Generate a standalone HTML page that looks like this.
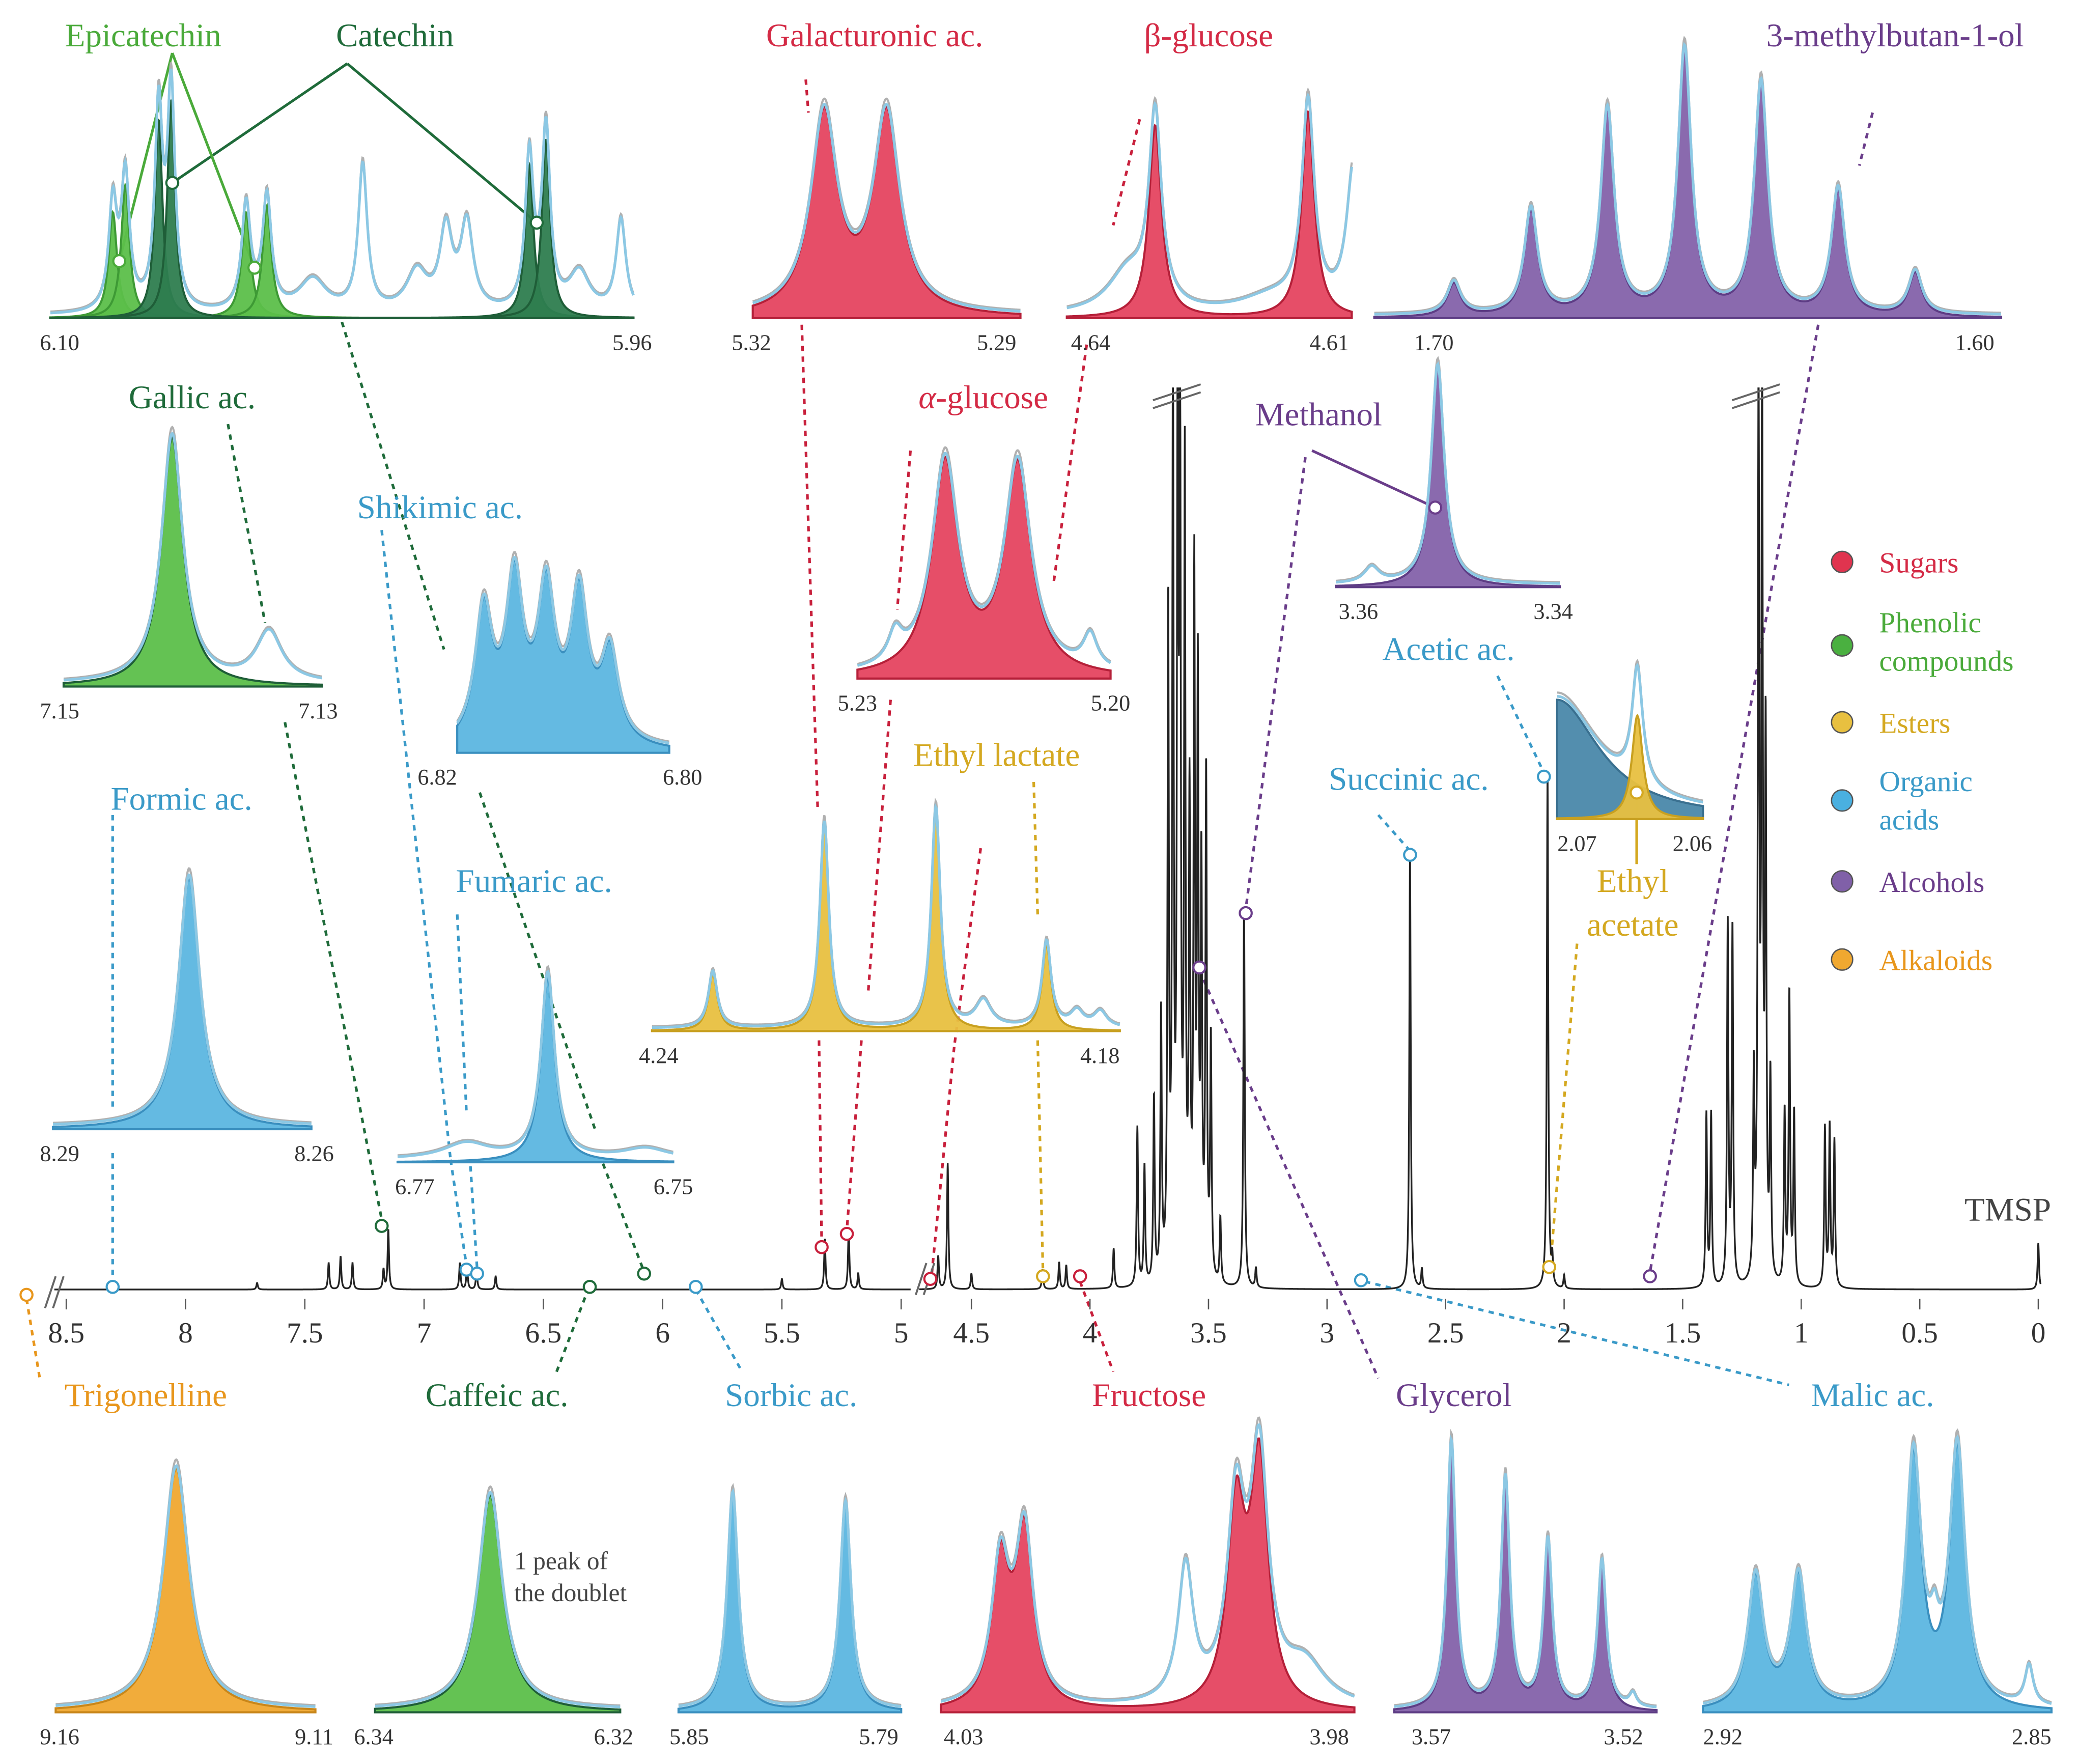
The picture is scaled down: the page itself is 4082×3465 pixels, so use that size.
<!DOCTYPE html>
<html><head><meta charset="utf-8"><style>
html,body{margin:0;padding:0;background:#fff}
svg{display:block}
text{font-family:"Liberation Serif",serif}
</style></head><body>
<svg id="s" xmlns="http://www.w3.org/2000/svg" width="4082" height="3465" viewBox="0 0 1568 1331">
<g id="leaders" fill="none" stroke-width="2" stroke-dasharray="4,4">
<line x1="20" y1="980" x2="30" y2="1040" stroke="#e8961c"/>
<line x1="85" y1="615" x2="85" y2="838" stroke="#3a9ac8"/><line x1="85" y1="870" x2="85" y2="968" stroke="#3a9ac8"/>
<line x1="172" y1="320" x2="200" y2="470" stroke="#1f6b3a"/><line x1="215" y1="545" x2="288" y2="920" stroke="#1f6b3a"/>
<line x1="258" y1="243" x2="335" y2="490" stroke="#1f6b3a"/><line x1="362" y1="598" x2="450" y2="855" stroke="#1f6b3a"/><line x1="455" y1="878" x2="485" y2="957" stroke="#1f6b3a"/>
<line x1="420" y1="1035" x2="443" y2="975" stroke="#1f6b3a"/>
<line x1="288" y1="400" x2="340" y2="875" stroke="#3a9ac8"/><line x1="340" y1="875" x2="352" y2="955" stroke="#3a9ac8"/>
<line x1="345" y1="690" x2="352" y2="840" stroke="#3a9ac8"/><line x1="355" y1="880" x2="360" y2="957" stroke="#3a9ac8"/>
<line x1="525" y1="973" x2="560" y2="1035" stroke="#3a9ac8"/>
<line x1="608" y1="60" x2="610" y2="85" stroke="#c8203c"/><line x1="605" y1="245" x2="617" y2="610" stroke="#c8203c"/><line x1="618" y1="785" x2="620" y2="937" stroke="#c8203c"/>
<line x1="672" y1="528" x2="655" y2="750" stroke="#c8203c"/><line x1="650" y1="785" x2="639" y2="928" stroke="#c8203c"/>
<line x1="687" y1="340" x2="677" y2="460" stroke="#c8203c"/>
<line x1="860" y1="90" x2="840" y2="170" stroke="#c8203c"/><line x1="820" y1="260" x2="795" y2="440" stroke="#c8203c"/>
<line x1="740" y1="640" x2="720" y2="790" stroke="#c8203c"/><line x1="720" y1="790" x2="703" y2="962" stroke="#c8203c"/>
<line x1="815" y1="967" x2="840" y2="1035" stroke="#c8203c"/>
<line x1="780" y1="590" x2="783" y2="690" stroke="#d4a820"/><line x1="783" y1="785" x2="787" y2="960" stroke="#d4a820"/>
<line x1="1413" y1="85" x2="1403" y2="125" stroke="#6a3d8a"/><line x1="1372" y1="245" x2="1245" y2="960" stroke="#6a3d8a"/>
<line x1="985" y1="345" x2="940" y2="686" stroke="#6a3d8a"/>
<line x1="905" y1="732" x2="1040" y2="1040" stroke="#6a3d8a"/>
<line x1="1040" y1="615" x2="1064" y2="642" stroke="#3a9ac8"/>
<line x1="1130" y1="510" x2="1165" y2="583" stroke="#3a9ac8"/>
<line x1="1030" y1="967" x2="1350" y2="1045" stroke="#3a9ac8"/>
<line x1="1190" y1="712" x2="1170" y2="953" stroke="#d4a820"/>
</g>
<g fill="none" stroke-width="2">
<line x1="262" y1="48" x2="130" y2="138" stroke="#1f6b3a"/><line x1="262" y1="48" x2="405" y2="168" stroke="#1f6b3a"/>
<line x1="130" y1="40" x2="90" y2="197" stroke="#4aaa3a"/><line x1="130" y1="40" x2="192" y2="202" stroke="#4aaa3a"/>
<line x1="990" y1="340" x2="1083" y2="383" stroke="#6a3d8a"/>
<line x1="1235" y1="598" x2="1235" y2="652" stroke="#d4a820"/>
</g>
<g id="insets"></g>
<g id="spec"></g>
<g id="dots"></g>
<g font-size="25" text-anchor="middle">
<text x="108" y="35" fill="#4aaa3a">Epicatechin</text>
<text x="298" y="35" fill="#1f6b3a">Catechin</text>
<text x="660" y="35" fill="#d42a45">Galacturonic ac.</text>
<text x="912" y="35" fill="#d42a45">β-glucose</text>
<text x="1430" y="35" fill="#6a3d8a">3-methylbutan-1-ol</text>
<text x="145" y="308" fill="#1f6b3a">Gallic ac.</text>
<text x="332" y="391" fill="#3a9ac8">Shikimic ac.</text>
<text x="742" y="308" fill="#d42a45"><tspan font-style="italic">α</tspan>-glucose</text>
<text x="995" y="321" fill="#6a3d8a">Methanol</text>
<text x="1093" y="498" fill="#3a9ac8">Acetic ac.</text>
<text x="752" y="578" fill="#d4a820">Ethyl lactate</text>
<text x="1063" y="596" fill="#3a9ac8">Succinic ac.</text>
<text x="137" y="611" fill="#3a9ac8">Formic ac.</text>
<text x="403" y="673" fill="#3a9ac8">Fumaric ac.</text>
<text x="1232" y="673" fill="#d4a820">Ethyl</text>
<text x="1232" y="706" fill="#d4a820">acetate</text>
<text x="1515" y="921" fill="#444">TMSP</text>
<text x="110" y="1061" fill="#e8961c">Trigonelline</text>
<text x="375" y="1061" fill="#1f6b3a">Caffeic ac.</text>
<text x="597" y="1061" fill="#3a9ac8">Sorbic ac.</text>
<text x="867" y="1061" fill="#d42a45">Fructose</text>
<text x="1097" y="1061" fill="#6a3d8a">Glycerol</text>
<text x="1413" y="1061" fill="#3a9ac8">Malic ac.</text>
<text x="388" y="1184" font-size="19" text-anchor="start" fill="#444">1 peak of</text>
<text x="388" y="1208" font-size="19" text-anchor="start" fill="#444">the doublet</text>
</g>
<g font-size="22">
<circle cx="1390" cy="424" r="8" fill="#e0344f" stroke="#555"/><text x="1418" y="432" fill="#d42a45">Sugars</text>
<circle cx="1390" cy="487" r="8" fill="#4ab040" stroke="#555"/><text x="1418" y="477" fill="#4aaa3a">Phenolic</text><text x="1418" y="506" fill="#4aaa3a">compounds</text>
<circle cx="1390" cy="545" r="8" fill="#e8c040" stroke="#555"/><text x="1418" y="553" fill="#d4a820">Esters</text>
<circle cx="1390" cy="604" r="8" fill="#4ab0e0" stroke="#555"/><text x="1418" y="597" fill="#3a9ac8">Organic</text><text x="1418" y="626" fill="#3a9ac8">acids</text>
<circle cx="1390" cy="665" r="8" fill="#8060a8" stroke="#555"/><text x="1418" y="673" fill="#6a3d8a">Alcohols</text>
<circle cx="1390" cy="724" r="8" fill="#f0a830" stroke="#555"/><text x="1418" y="732" fill="#e8961c">Alkaloids</text>
</g>
<g id="axis" font-size="22" text-anchor="middle" fill="#333"></g>
</svg>
<script>
// main spectrum data
const specPpm=[7.70,7.40,7.35,7.30,7.17,7.15,6.85,6.82,6.78,6.70,5.50,5.32,5.22,5.18,4.64,4.60,4.50,4.20,4.13,4.10,3.90,3.80,3.77,3.73,3.70,3.67,3.65,3.63,3.62,3.60,3.58,3.56,3.545,3.53,3.51,3.49,3.45,3.35,3.30,2.65,2.60,2.07,2.05,2.00,1.40,1.38,1.31,1.29,1.20,1.18,1.165,1.15,1.13,1.07,1.05,1.03,0.90,0.88,0.86,0.00];
const specH=[5,20,25,20,15,45,20,18,15,10,8,38,45,12,25,95,12,15,20,18,30,120,90,140,200,500,690,690,660,600,350,520,440,300,380,180,50,290,15,330,15,390,20,10,130,130,275,270,150,690,690,400,150,130,220,130,120,120,110,35];
const leftTicks=[8.5,8,7.5,7,6.5,6,5.5,5];
const rightTicks=[4.5,4,3.5,3,2.5,2,1.5,1,0.5,0];
const NS="http://www.w3.org/2000/svg";
function xL(p){return 50+(8.5-p)*180;}
function xR(p){return 733+(4.5-p)*178.9;}
function mk(tag,attrs,parent){const e=document.createElementNS(NS,tag);for(const k in attrs)e.setAttribute(k,attrs[k]);parent.appendChild(e);return e;}
const spec=document.getElementById('spec'),axis=document.getElementById('axis');
function specPath(p0,p1,xf){let d='';for(let p=p0;p>=p1;p-=0.0008){let y=0;for(let i=0;i<specPpm.length;i++){const t=(p-specPpm[i])/0.0035;y+=specH[i]/(1+t*t);}
y=Math.min(y,680);d+=(d?'L':'M')+xf(p).toFixed(2)+','+(973-y).toFixed(2);}return d;}
const sl=mk('path',{d:specPath(8.55,4.96,xL),fill:'none',stroke:'#222','stroke-width':1.3},spec);


const sr=mk('path',{d:specPath(4.72,-0.01,xR),fill:'none',stroke:'#222','stroke-width':1.3},spec);


[[40,975],[697,965]].forEach(b=>{mk('line',{x1:b[0]-6,y1:b[1]+12,x2:b[0]+2,y2:b[1]-12,stroke:'#666','stroke-width':1.5},spec);mk('line',{x1:b[0],y1:b[1]+12,x2:b[0]+8,y2:b[1]-12,stroke:'#666','stroke-width':1.5},spec);});
[[888,297],[1325,297]].forEach(b=>{mk('line',{x1:b[0]-18,y1:b[1]+5,x2:b[0]+18,y2:b[1]-7,stroke:'#666','stroke-width':1.5},spec);mk('line',{x1:b[0]-18,y1:b[1]+11,x2:b[0]+18,y2:b[1]-1,stroke:'#666','stroke-width':1.5},spec);});
leftTicks.forEach(t=>{const x=xL(t);mk('line',{x1:x,y1:980,x2:x,y2:988,stroke:'#555'},axis);const e=mk('text',{x:x,y:1013},axis);e.textContent=String(t);

});
rightTicks.forEach(t=>{const x=xR(t);mk('line',{x1:x,y1:980,x2:x,y2:988,stroke:'#555'},axis);const e=mk('text',{x:x,y:1013},axis);e.textContent=String(t);

});
const dots=[[20,977,'#e8961c'],[85,971,'#3a9ac8'],[288,925,'#1f6b3a'],[352,958,'#3a9ac8'],[360,961,'#3a9ac8'],[445,971,'#1f6b3a'],[486,961,'#1f6b3a'],[525,971,'#3a9ac8'],[620,941,'#c8203c'],[639,931,'#c8203c'],[702,965,'#c8203c'],[787,963,'#d4a820'],[815,963,'#c8203c'],[940,689,'#6a3d8a'],[905,730,'#6a3d8a'],[1027,966,'#3a9ac8'],[1064,645,'#3a9ac8'],[1165,586,'#3a9ac8'],[1169,956,'#d4a820'],[1245,963,'#6a3d8a'],[1083,383,'#6a3d8a'],[1235,598,'#d4a820'],[90,197,'#4aaa3a'],[192,202,'#4aaa3a'],[130,138,'#1f6b3a'],[405,168,'#1f6b3a']];
const dg=document.getElementById('dots');
dots.forEach(d=>{const c=mk('circle',{cx:d[0],cy:d[1],r:4.5,fill:'#fff',stroke:d[2],'stroke-width':1.6},dg);

});
const epiPeaks=[[6.085,80,0.0012],[6.082,100,0.0012],[6.053,80,0.0013],[6.048,85,0.0013]];
const catPeaks=[[6.074,150,0.0011],[6.071,165,0.0011],[5.985,115,0.0012],[5.981,135,0.0012]];
const insets=[
 {n:'epicatechin-catechin',x0:38,x1:478,b:240,L:6.10,R:5.96,groups:[[epiPeaks,'#5cbf4a','#3e9a35'],[catPeaks,'#2e7d4f','#1f5e38']],extra:[[6.025,110,0.0013],[6.037,25,0.004],[6.005,60,0.0018],[6.0,65,0.0018],[6.012,30,0.003],[5.973,30,0.003],[5.963,70,0.0014]],lab:['6.10','5.96'],lp:[45,477]},
 {n:'galacturonic',x0:568,x1:770,b:240,L:5.32,R:5.29,groups:[[[[5.312,150,0.0018],[5.305,150,0.0018]],'#e54560','#b52039']],extra:[],lab:['5.32','5.29'],lp:[567,752]},
 {n:'beta-glucose',x0:805,x1:1020,b:240,L:4.64,R:4.61,groups:[[[[4.6307,145,0.0008],[4.6146,155,0.0008]],'#e54560','#b52039']],extra:[[4.6336,30,0.0025],[4.6185,12,0.004],[4.6098,110,0.0009]],lab:['4.64','4.61'],lp:[823,1003]},
 {n:'methylbutanol',x0:1037,x1:1510,b:240,L:1.70,R:1.60,groups:[[[[1.6873,25,0.0013],[1.675,80,0.0013],[1.6628,155,0.0013],[1.6505,200,0.0013],[1.6383,175,0.0013],[1.626,95,0.0013],[1.6137,33,0.0013]],'#8462aa','#5e3d85']],extra:[],lab:['1.70','1.60'],lp:[1082,1490]},
 {n:'gallic',x0:48,x1:243,b:518,L:7.15,R:7.13,groups:[[[[7.1416,188,0.001]],'#5cbf4a','#1f5e38']],extra:[[7.1341,38,0.0012]],lab:['7.15','7.13'],lp:[45,240]},
 {n:'shikimic',x0:345,x1:505,b:568,L:6.82,R:6.80,groups:[[[[6.8175,100,0.001],[6.8146,120,0.001],[6.8116,112,0.001],[6.8085,110,0.001],[6.8056,68,0.001]],'#5cb6e0','#3a8fbf']],extra:[],lab:['6.82','6.80'],lp:[330,515]},
 {n:'alpha-glucose',x0:647,x1:838,b:512,L:5.23,R:5.20,groups:[[[[5.2196,160,0.0019],[5.211,158,0.0019]],'#e54560','#b52039']],extra:[[5.2255,22,0.001],[5.2024,25,0.001]],lab:['5.23','5.20'],lp:[647,838]},
 {n:'methanol',x0:1008,x1:1177,b:443,L:3.36,R:3.34,groups:[[[[3.3509,166,0.0007]],'#8462aa','#5e3d85']],extra:[[3.3568,12,0.0008]],lab:['3.36','3.34'],lp:[1025,1172]},
 {n:'ethyl-acetate',x0:1175,x1:1285,b:618,L:2.07,R:2.06,groups:[[[[2.07,90,0.0035]],'#4a88aa','#3a7090'],[[[2.0645,78,0.00045]],'#e8c040','#c8a020']],extra:[[2.0645,10,0.0004]],lab:['2.07','2.06'],lp:[1190,1277]},
 {n:'formic',x0:40,x1:235,b:852,L:8.29,R:8.26,groups:[[[[8.2742,190,0.0015]],'#5cb6e0','#3a8fbf']],extra:[],lab:['8.29','8.26'],lp:[45,237]},
 {n:'fumaric',x0:300,x1:508,b:877,L:6.77,R:6.75,groups:[[[[6.7591,140,0.0006]],'#5cb6e0','#3a8fbf']],extra:[[6.765,12,0.002],[6.752,8,0.002]],lab:['6.77','6.75'],lp:[313,508]},
 {n:'ethyl-lactate',x0:492,x1:845,b:778,L:4.24,R:4.18,groups:[[[[4.2322,43,0.0007],[4.2179,156,0.0007],[4.2036,166,0.0007],[4.1894,65,0.0007]],'#e8c040','#c8a020']],extra:[[4.1975,20,0.0012],[4.1855,12,0.001],[4.1825,12,0.001]],lab:['4.24','4.18'],lp:[497,830]},
 {n:'trigonelline',x0:42,x1:238,b:1292,L:9.16,R:9.11,groups:[[[[9.1368,184,0.003]],'#f0a830','#c8861a']],extra:[],lab:['9.16','9.11'],lp:[45,237]},
 {n:'caffeic',x0:283,x1:468,b:1292,L:6.34,R:6.32,groups:[[[[6.3306,164,0.0012]],'#5cbf4a','#1f5e38']],extra:[],lab:['6.34','6.32'],lp:[282,463]},
 {n:'sorbic',x0:512,x1:680,b:1292,L:5.85,R:5.79,groups:[[[[5.8354,164,0.0018],[5.805,157,0.0018]],'#5cb6e0','#3a8fbf']],extra:[],lab:['5.85','5.79'],lp:[520,663]},
 {n:'fructose',x0:710,x1:1022,b:1292,L:4.03,R:3.98,groups:[[[[4.0228,107,0.0013],[4.0199,130,0.0013],[3.9943,145,0.0013],[3.9915,180,0.0013]],'#e54560','#b52039']],extra:[[4.0004,102,0.0011],[3.986,30,0.003]],lab:['4.03','3.98'],lp:[727,1003]},
 {n:'glycerol',x0:1052,x1:1250,b:1292,L:3.57,R:3.52,groups:[[[[3.5591,202,0.001],[3.5488,174,0.001],[3.5407,127,0.001],[3.5304,112,0.001]],'#8462aa','#5e3d85']],extra:[[3.5245,10,0.0008]],lab:['3.57','3.52'],lp:[1080,1225]},
 {n:'malic',x0:1285,x1:1548,b:1292,L:2.92,R:2.85,groups:[[[[2.9094,100,0.0019],[2.9008,100,0.0019],[2.8777,190,0.0019],[2.8689,195,0.0019]],'#5cb6e0','#3a8fbf']],extra:[[2.8735,30,0.001],[2.8545,30,0.001]],lab:['2.92','2.85'],lp:[1300,1533]}
];
const ig=document.getElementById('insets');
function lor(p,pk){let y=0;pk.forEach(q=>{const t=(p-q[0])/q[2];y+=q[1]/(1+t*t);});return y;}
insets.forEach(s=>{
 const g=mk('g',{},ig);
 
 
 const px=x=>s.L+(x-s.x0)/(s.x1-s.x0)*(s.R-s.L);
 const all=[];s.groups.forEach(gr=>gr[0].forEach(q=>all.push(q)));
 const single=s.n==='epicatechin-catechin';
 s.groups.forEach(gr=>{
  const comps=single?gr[0].map(q=>[q]):[gr[0]];
  comps.forEach(c=>{let d='M'+s.x0+','+s.b;for(let x=s.x0;x<=s.x1;x+=0.5){d+='L'+x+','+(s.b-Math.min(lor(px(x),c),230)).toFixed(2);}d+='L'+s.x1+','+s.b+'Z';
   const f=mk('path',{d:d,fill:gr[1],'fill-opacity':0.95,stroke:gr[2],'stroke-width':1.6},g);
   
   });
 });
 let d2='',d3='';
 for(let x=s.x0;x<=s.x1;x+=0.5){const y=Math.min(lor(px(x),all)+lor(px(x),s.extra)+2,225);d2+=(d2?'L':'M')+x+','+(s.b-y).toFixed(2);d3+=(d3?'L':'M')+x+','+(s.b-y*1.02-1).toFixed(2);}
 mk('path',{d:d3,fill:'none',stroke:'#b0b0b0','stroke-width':1.6},g);
 const ex=mk('path',{d:d2,fill:'none',stroke:'#8cc8e4','stroke-width':2},g);
 
 
 const a=mk('text',{x:s.lp[0],y:s.b+24,'font-size':17,'text-anchor':'middle',fill:'#333'},g);a.textContent=s.lab[0];
 
 
 const b=mk('text',{x:s.lp[1],y:s.b+24,'font-size':17,'text-anchor':'middle',fill:'#333'},g);b.textContent=s.lab[1];
 
 
});
</script>
</body></html>
